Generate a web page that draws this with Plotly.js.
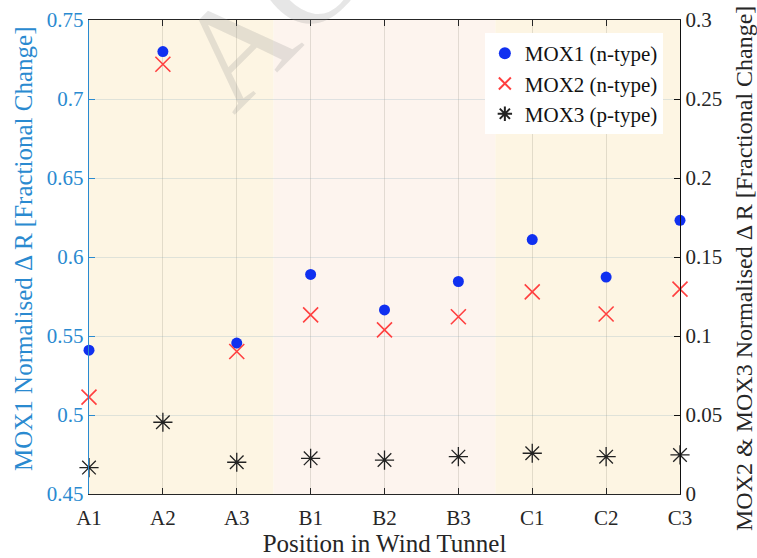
<!DOCTYPE html>
<html>
<head>
<meta charset="utf-8">
<script src="https://cdn.plot.ly/plotly-3.0.1.min.js"></script>
<style>
html,body{margin:0;padding:0;background:#fff;}
#chart{width:757px;height:558px;}
</style>
</head>
<body>
<div id="chart"></div>
<script>
const positions = ["A1","A2","A3","B1","B2","B3","C1","C2","C3"];
const mox1 = [0.541, 0.730, 0.5455, 0.589, 0.5665, 0.5845, 0.611, 0.5873, 0.6232];
const mox2 = [0.0613, 0.272, 0.0902, 0.1134, 0.1039, 0.1122, 0.1279, 0.1139, 0.1297];
const mox3 = [0.0167, 0.0454, 0.0201, 0.0226, 0.0215, 0.0236, 0.0258, 0.0236, 0.0247];
const leftTicks = [0.45, 0.5, 0.55, 0.6, 0.65, 0.7, 0.75];
const rightTicks = [0, 0.05, 0.1, 0.15, 0.2, 0.25, 0.3];
const leftTitle = "MOX1 Normalised \u0394 R [Fractional Change]";
const rightTitle = "MOX2 &amp; MOX3 Normalised \u0394 R [Fractional Change]";

const serif = "Liberation Serif";
const blueAxis = "#2a8ad0";
const dark = "#262626";

const traces = [
  {x: positions, y: mox1, name: "MOX1 (n-type)", type: "scatter", mode: "markers", yaxis: "y",
   marker: {symbol: "circle", size: 11, color: "#1030f0", line: {width: 0}}, cliponaxis: false},
  {x: positions, y: mox2, name: "MOX2 (n-type)", type: "scatter", mode: "markers", yaxis: "y2",
   marker: {symbol: "x-thin-open", size: 15, color: "#ff4040", line: {width: 1.6, color: "#ff4040"}}, cliponaxis: false},
  {x: positions, y: mox3, name: "MOX3 (p-type)", type: "scatter", mode: "markers", yaxis: "y2",
   marker: {symbol: "asterisk-open", size: 16, color: "#222", line: {width: 1.3, color: "#222"}}, cliponaxis: false}
];

const layout = {
  width: 757, height: 558,
  margin: {l: 89, r: 77, t: 20, b: 64},
  paper_bgcolor: "#ffffff",
  plot_bgcolor: "#ffffff",
  font: {family: serif, size: 18, color: dark},
  showlegend: true,
  legend: {x: 0.971, y: 0.9726, xanchor: "right", yanchor: "top",
           bgcolor: "#ffffff", borderwidth: 0, font: {family: serif, size: 21, color: "#111"},
           tracegroupgap: 0, itemsizing: "constant"},
  xaxis: {type: "category", range: [0, 8], showline: true, linecolor: dark, linewidth: 1,
          mirror: "ticks", ticks: "inside", ticklen: 6, tickcolor: dark,
          showgrid: true, gridcolor: "rgba(90,90,70,0.16)", gridwidth: 1,
          tickfont: {family: serif, size: 21, color: dark}, zeroline: false, ticklabelstandoff: 5,
          title: {text: "Position in Wind Tunnel", font: {family: serif, size: 25, color: dark}, standoff: 3}},
  yaxis: {range: [0.45, 0.75], tickvals: leftTicks, ticktext: leftTicks.map(String),
          showline: true, linecolor: blueAxis, linewidth: 1.2,
          ticks: "inside", ticklen: 6, tickcolor: blueAxis,
          showgrid: true, gridcolor: "rgba(120,160,180,0.22)", gridwidth: 1, zeroline: false,
          tickfont: {family: serif, size: 21, color: blueAxis}},
  yaxis2: {range: [0, 0.3], tickvals: rightTicks, ticktext: rightTicks.map(String),
           overlaying: "y", side: "right", showline: true, linecolor: "#111", linewidth: 1.2,
           ticks: "inside", ticklen: 6, tickcolor: "#111", showgrid: false, zeroline: false,
           tickfont: {family: serif, size: 21, color: dark}},
  shapes: [
    {type: "rect", xref: "x", yref: "paper", x0: 0, x1: 2.5, y0: 0, y1: 1, fillcolor: "#fdf5e3", line: {width: 0}, layer: "below"},
    {type: "rect", xref: "x", yref: "paper", x0: 2.5, x1: 5.5, y0: 0, y1: 1, fillcolor: "#fdf4ee", line: {width: 0}, layer: "below"},
    {type: "rect", xref: "x", yref: "paper", x0: 5.5, x1: 8, y0: 0, y1: 1, fillcolor: "#fdf5e3", line: {width: 0}, layer: "below"}
  ],
  annotations: [
    {text: leftTitle, xref: "paper", yref: "paper", x: -0.11, y: 0.5169, xanchor: "center", yanchor: "middle",
     textangle: -90, showarrow: false, font: {family: serif, size: 25, color: blueAxis}},
    {text: rightTitle, xref: "paper", yref: "paper", x: 1.1083, y: 0.4747, xanchor: "center", yanchor: "middle",
     textangle: -90, showarrow: false, font: {family: serif, size: 24, color: dark}},
    {text: "AC", xref: "paper", yref: "paper", x: 0.3046, y: 1.0127, xanchor: "center", yanchor: "middle",
     textangle: -45, showarrow: false, font: {family: serif, size: 140, color: "rgba(140,140,140,0.22)"}}
  ]
};

Plotly.newPlot("chart", traces, layout, {staticPlot: true, displayModeBar: false});
</script>
</body>
</html>
